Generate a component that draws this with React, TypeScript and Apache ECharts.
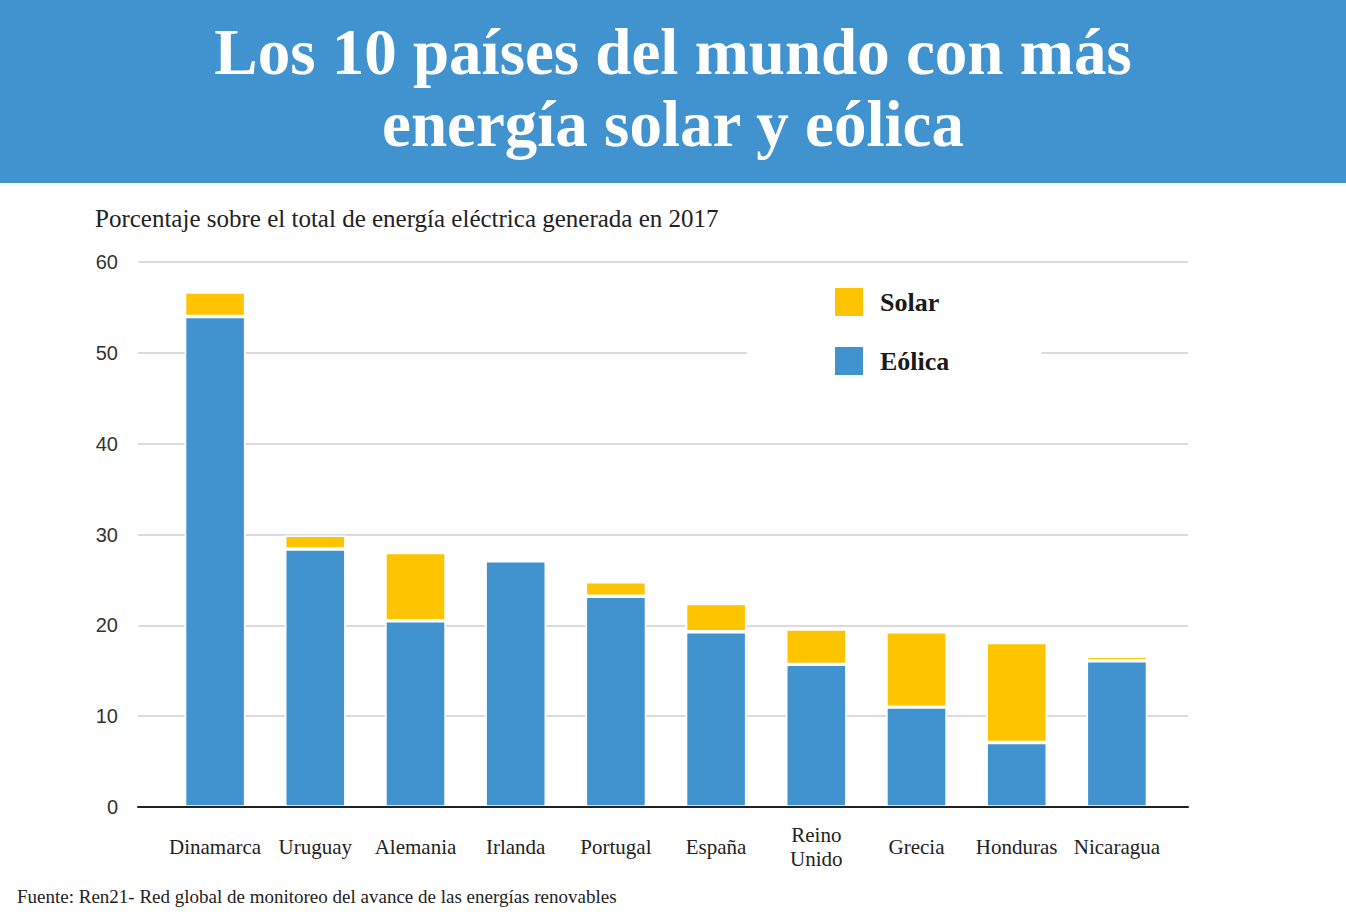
import React, { useEffect, useRef } from "react";
import * as echarts from "echarts";

const categories = ["Dinamarca", "Uruguay", "Alemania", "Irlanda", "Portugal", "España", "Reino\nUnido", "Grecia", "Honduras", "Nicaragua"];
const eolica = [54.0, 28.4, 20.5, 27.1, 23.2, 19.3, 15.7, 11.0, 7.1, 16.1];
const solar = [2.7, 1.5, 7.5, 0, 1.6, 3.1, 3.9, 8.3, 11.0, 0.5];
const yTicks = { min: 0, max: 60, interval: 10 };

const BLUE = "#4193CF";
const YELLOW = "#FFC400";
const SERIF = "'Liberation Serif', 'DejaVu Serif', serif";

export default function App() {
  const ref = useRef<HTMLDivElement>(null);
  useEffect(() => {
    document.body.style.margin = "0";
    const chart = echarts.init(ref.current!, undefined, { renderer: "svg" });
    chart.setOption({
      animation: false,
      backgroundColor: "#fff",
      graphic: [
        { type: "rect", left: 0, top: 0, shape: { width: 1346, height: 183 }, style: { fill: BLUE }, z: 0 },
        {
          type: "text", x: 673, y: 52,
          style: { text: "Los 10 países del mundo con más", fill: "#fff", font: `bold 65px ${SERIF}`, align: "center", verticalAlign: "middle" },
        },
        {
          type: "text", x: 673, y: 124,
          style: { text: "energía solar y eólica", fill: "#fff", font: `bold 65px ${SERIF}`, align: "center", verticalAlign: "middle" },
        },
        {
          type: "text", x: 95, y: 218,
          style: { text: "Porcentaje sobre el total de energía eléctrica generada en 2017", fill: "#222", font: `25px ${SERIF}`, align: "left", verticalAlign: "middle" },
        },
        {
          type: "text", x: 17, y: 896,
          style: { text: "Fuente: Ren21- Red global de monitoreo del avance de las energías renovables", fill: "#222", font: `19px ${SERIF}`, align: "left", verticalAlign: "middle" },
        },
      ],
      legend: {
        data: ["Solar", "Eólica"],
        orient: "vertical",
        left: 747,
        top: 268,
        padding: [18, 92, 10, 86],
        backgroundColor: "#fff",
        itemWidth: 30,
        itemHeight: 30,
        itemGap: 27,
        icon: "rect",
        textStyle: { fontFamily: SERIF, fontWeight: "bold", fontSize: 26, color: "#1a1a1a", padding: [0, 0, 0, 11] },
      },
      grid: [
        { left: 138, right: 158, top: 262, bottom: 108 },
        { left: 165, right: 179, top: 262, bottom: 108 },
      ],
      xAxis: [
        {
          gridIndex: 0, type: "value", min: 0, max: 1, z: 10,
          axisLine: { show: true, lineStyle: { color: "#222", width: 2 } },
          axisTick: { show: false }, axisLabel: { show: false }, splitLine: { show: false },
        },
        {
          gridIndex: 1, type: "category", data: categories,
          axisLine: { show: false }, axisTick: { show: false },
          axisLabel: { margin: 40, fontFamily: SERIF, fontSize: 21, color: "#222", lineHeight: 24, verticalAlign: "middle", interval: 0 },
        },
      ],
      yAxis: [
        {
          gridIndex: 0, type: "value", ...yTicks,
          axisLine: { show: false }, axisTick: { show: false },
          axisLabel: { margin: 20, fontFamily: "'Liberation Sans', Arial, sans-serif", fontSize: 20, color: "#333" },
          splitLine: { lineStyle: { color: "#cfcfcf", width: 1.5 } },
        },
        {
          gridIndex: 1, type: "value", ...yTicks,
          axisLine: { show: false }, axisTick: { show: false }, axisLabel: { show: false }, splitLine: { show: false },
        },
      ],
      series: [
        {
          name: "Eólica", type: "bar", stack: "total", xAxisIndex: 1, yAxisIndex: 1, data: eolica, barWidth: 61,
          itemStyle: { color: BLUE, borderColor: "#fff", borderWidth: 1.7 },
        },
        {
          name: "Solar", type: "bar", stack: "total", xAxisIndex: 1, yAxisIndex: 1, data: solar, barWidth: 61,
          itemStyle: { color: YELLOW, borderColor: "#fff", borderWidth: 1.7 },
        },
      ],
    });
    return () => chart.dispose();
  }, []);
  return <div ref={ref} style={{ width: 1346, height: 915 }} />;
}
